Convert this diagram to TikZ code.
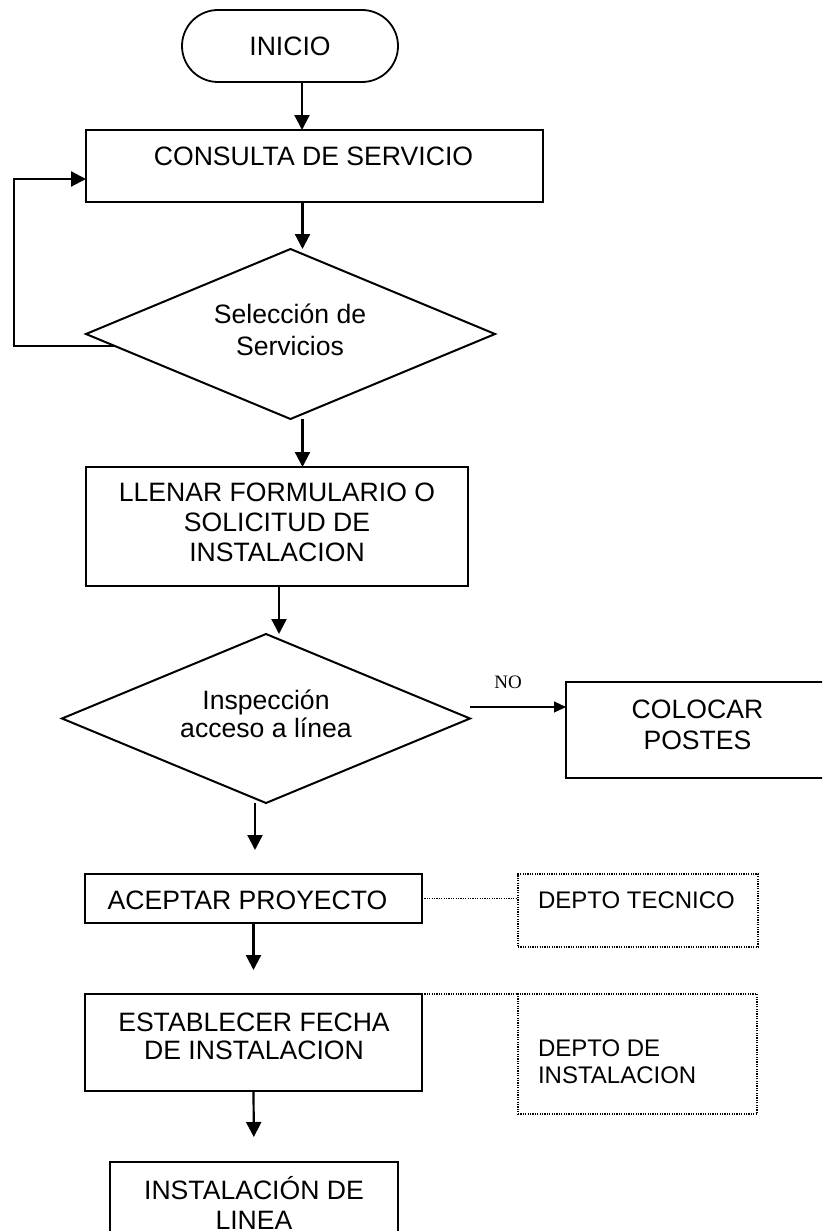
\documentclass[tikz,border=0pt]{standalone}
\usepackage{fontspec}
\setmainfont{Liberation Sans}
\newfontfamily\serifno{Liberation Serif}
\usetikzlibrary{arrows.meta,shapes.geometric}

\begin{document}
\begin{tikzpicture}[x=1pt,y=-1pt,
  every node/.style={inner sep=0pt, outer sep=0pt},
  box/.style={draw, line width=2.2pt, rectangle},
  term/.style={draw, line width=1.8pt, rectangle, rounded corners=36pt},
  dept/.style={draw, line width=1.3pt, dash pattern=on 1.2pt off 1.2pt, rectangle},
  dec/.style={draw, line width=2pt, diamond},
  txt/.style={font=\fontsize{26.6}{30}\selectfont, align=center},
  stxt/.style={font=\fontsize{24}{27}\selectfont, align=left},
  flow/.style={line width=2.2pt, -{Triangle[length=15pt,width=15pt]}},
  noarrow/.style={line width=1.1pt, -{Triangle[length=12pt,width=11pt]}},
  link/.style={line width=1.3pt, dash pattern=on 1.2pt off 1.2pt}]

\useasboundingbox (0,0) rectangle (822,1231);
\clip (0,0) rectangle (822,1231);

% shapes of the flow
\node[term, minimum width=216pt, minimum height=72pt, txt] (inicio) at (290,46) {INICIO};
\node[box, minimum width=457pt, minimum height=72pt] (consulta) at (314.5,166) {};
\node[dec, minimum width=409pt, minimum height=170pt] (sel) at (290.5,334) {};
\node[box, minimum width=382pt, minimum height=119pt] (llenar) at (277,526.5) {};
\node[dec, minimum width=408pt, minimum height=169pt] (insp) at (266,718.5) {};
\node[box, minimum width=263pt, minimum height=96pt] (colocar) at (697.5,730) {};
\node[box, minimum width=337pt, minimum height=49pt] (aceptar) at (253.5,898.5) {};
\node[dept, minimum width=240pt, minimum height=73pt] (tecnico) at (638,910.5) {};
\node[box, minimum width=337pt, minimum height=97pt] (estab) at (253.5,1042.5) {};
\node[dept, minimum width=239pt, minimum height=120pt] (instal) at (637.5,1054) {};
\node[box, minimum width=288pt, minimum height=98pt] (final) at (254,1211) {};

% texts
\node[txt] (tconsulta) at (313.5,156) {CONSULTA DE SERVICIO};
\node[txt, font=\fontsize{26.6}{32}\selectfont] (tsel) at (290,330) {Selección de\\Servicios};
\node[txt] (tllenar) at (277,522) {LLENAR FORMULARIO O\\SOLICITUD DE\\INSTALACION};
\node[txt, font=\fontsize{26.6}{28}\selectfont] (tinsp) at (266,714) {Inspección\\acceso a línea};
\node[txt, font=\fontsize{26.6}{31}\selectfont] (tcolocar) at (697.5,724.5) {COLOCAR\\POSTES};
\node[txt] (taceptar) at (247.5,900) {ACEPTAR PROYECTO};
\node[stxt, anchor=west] (ttecnico) at (538,900) {DEPTO TECNICO};
\node[txt, font=\fontsize{26.6}{28}\selectfont] (testab) at (254,1036) {ESTABLECER FECHA\\DE INSTALACION};
\node[stxt, anchor=west] (tinstal) at (538,1061.5) {DEPTO DE\\INSTALACION};
\node[txt] (tfinal) at (254,1203) {INSTALACIÓN DE\\LINEA};
\node[font=\serifno\fontsize{19}{19}\selectfont] (no) at (508,682) {NO};

% connectors
\coordinate (bend) at (14,179);
\draw[flow] ([xshift=12pt]inicio.south) -- ([xshift=12pt]inicio.south |- consulta.north);
\draw[flow] ([xshift=12pt]sel.north |- consulta.south) -- ([xshift=12pt]sel.north);
\draw[flow] (sel.184) -| (bend) -- (bend -| consulta.west);
\draw[flow] ([xshift=12pt]sel.south) -- ([xshift=12pt]sel.south |- llenar.north);
\draw[flow] ([xshift=13pt]insp.north |- llenar.south) -- ([xshift=13pt]insp.north);
\draw[noarrow] ([yshift=11.5pt]insp.east) -- ([yshift=11.5pt]insp.east -| colocar.west);
\draw[flow, shorten >=24pt] ([xshift=-11pt]insp.south) -- ([xshift=-11pt]insp.south |- aceptar.north);
\draw[flow, shorten >=24pt] (aceptar.south) -- (estab.north);
\draw[flow, shorten >=25pt] (estab.south) -- (final.north);
\draw[link] (aceptar.east) -- (aceptar.east -| tecnico.west);
\draw[link] (estab.north east) -- (instal.north west);
\end{tikzpicture}
\end{document}
